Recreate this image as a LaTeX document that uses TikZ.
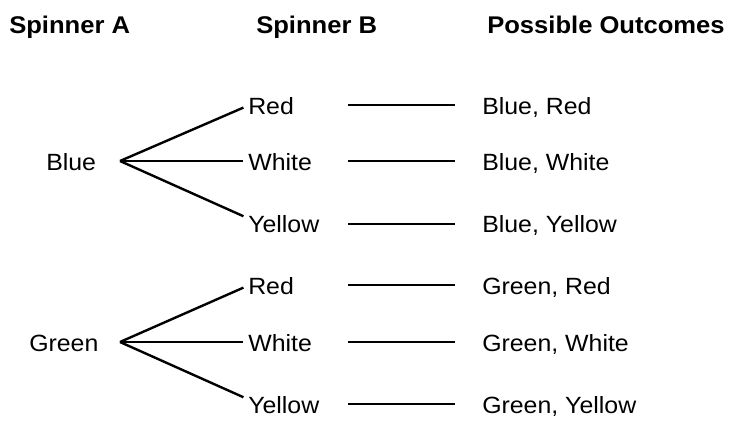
\documentclass[tikz,border=0pt]{standalone}
\usepackage{fontspec}
\setmainfont[FakeStretch=1.06]{Liberation Sans}
\begin{document}
\begin{tikzpicture}[x=0.75pt,y=-0.75pt,
  lbl/.style={inner sep=0pt, anchor=base west, font=\fontsize{17.6}{20}\selectfont},
  hdr/.style={inner sep=0pt, anchor=base west, font=\bfseries\fontsize{18.1}{20}\selectfont},
  branch/.style={line width=1.8pt, shorten >=3.75pt},
  link/.style={line width=1.5pt}]
\useasboundingbox (0,0) rectangle (730,421);

% column headings
\node[hdr] (ha) at (9,33)   {Spinner A};
\node[hdr] (hb) at (256,33) {Spinner B};
\node[hdr] (hc) at (487,33) {Possible Outcomes};

% first spinner
\node[lbl] (blue)  at (46,170)  {Blue};
\node[lbl] (green) at (29,351)  {Green};
\coordinate (fb) at (120,161);
\coordinate (fg) at (120,342);

% second spinner
\node[lbl] (r1) at (248,114) {Red};
\node[lbl] (w1) at (248,170) {White};
\node[lbl] (y1) at (248,232) {Yellow};
\node[lbl] (r2) at (248,294) {Red};
\node[lbl] (w2) at (248,351) {White};
\node[lbl] (y2) at (248,413) {Yellow};

% outcomes
\node[lbl] (o1) at (482,114) {Blue, Red};
\node[lbl] (o2) at (482,170) {Blue, White};
\node[lbl] (o3) at (482,232) {Blue, Yellow};
\node[lbl] (o4) at (482,294) {Green, Red};
\node[lbl] (o5) at (482,351) {Green, White};
\node[lbl] (o6) at (482,413) {Green, Yellow};

% tree branches
\draw[branch] (fb) -- (r1.west);
\draw[branch] (fb) -- (fb -| w1.west);
\draw[branch] (fb) -- ([yshift=4pt]y1.west);
\draw[branch] (fg) -- (r2.west);
\draw[branch] (fg) -- (fg -| w2.west);
\draw[branch] (fg) -- ([yshift=4pt]y2.west);

% links to the outcomes
\coordinate (s1) at (348,105);
\coordinate (s2) at (348,161);
\coordinate (s3) at (348,224);
\coordinate (s4) at (348,285);
\coordinate (s5) at (348,342);
\coordinate (s6) at (348,404);
\draw[link] (s1) -- ([xshift=-20pt]o1.west |- s1);
\draw[link] (s2) -- ([xshift=-20pt]o2.west |- s2);
\draw[link] (s3) -- ([xshift=-20pt]o3.west |- s3);
\draw[link] (s4) -- ([xshift=-20pt]o4.west |- s4);
\draw[link] (s5) -- ([xshift=-20pt]o5.west |- s5);
\draw[link] (s6) -- ([xshift=-20pt]o6.west |- s6);
\end{tikzpicture}
\end{document}
